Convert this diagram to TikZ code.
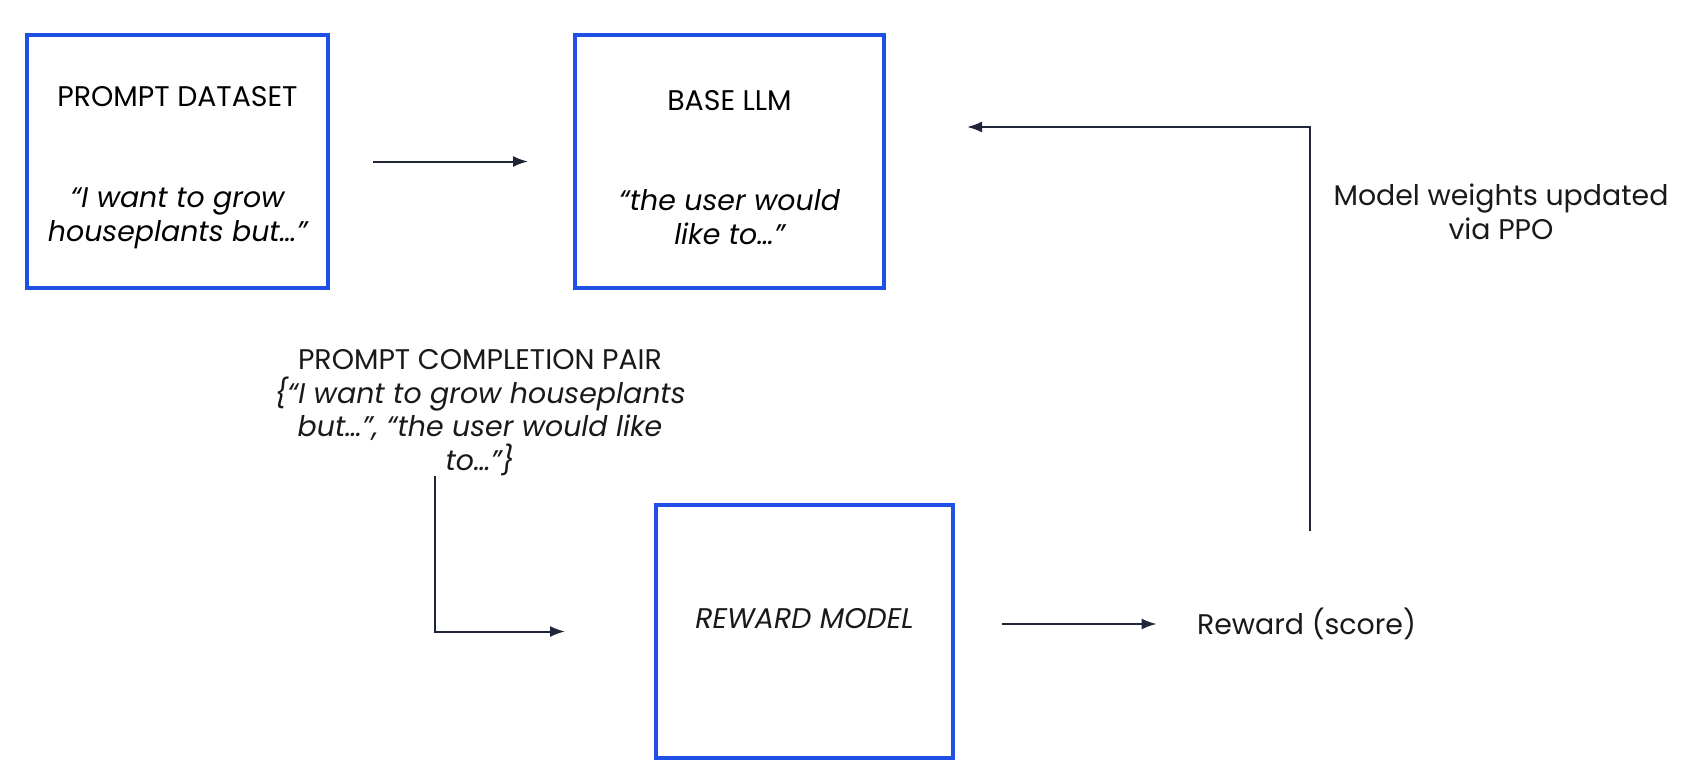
\documentclass[tikz,border=0pt]{standalone}
\usepackage{fontspec}
\setmainfont{Poppins}
\usetikzlibrary{arrows.meta,positioning}

\definecolor{boxblue}{RGB}{30,80,230}
\definecolor{linenavy}{RGB}{30,38,55}

\begin{document}
\begin{tikzpicture}[x=0.5pt, y=-0.5pt,
  font=\fontsize{14.2}{16.8}\selectfont,
  stage/.style={draw=boxblue, line width=2pt, minimum height=126.5pt, align=center, inner sep=0pt},
  caption/.style={align=center, inner sep=0pt, text=black!90},
  flow/.style={draw=linenavy, line width=1pt, -{Latex[length=7.5pt,width=5.5pt]}}]

  \useasboundingbox (0,0) rectangle (1686,781);

  % Nodes:
  \node[stage, minimum width=150.5pt] (data) at (177.5,161.5)
    {\rule{0pt}{16pt}PROMPT DATASET\\[33.6pt]\itshape “I want to grow\\\itshape houseplants but…”};
  \node[stage, minimum width=154.5pt] (base) at (729.5,161.5)
    {\rule{0pt}{16pt}BASE LLM\\[33.6pt]\itshape “the user would\\\itshape like to…”};
  \node[stage, minimum width=148.5pt] (reward) at (804.5,631.5) {};
  \node[caption, font=\fontsize{14.2}{16.8}\selectfont\itshape] (rewardtxt)
    at ([yshift=6.5pt]reward.center) {REWARD MODEL};
  \node[caption] (pair) at (480,412.5)
    {PROMPT COMPLETION PAIR\\\itshape \{“I want to grow houseplants\\\itshape but…”, “the user would like\\\itshape to…”\}};
  \node[caption] (score) at (1306.5,624) {Reward (score)};
  \node[caption] (weights) at (1501,212) {Model weights updated\\via PPO};

  % Connections:
  \draw[flow, shorten <=21.5pt, shorten >=22.5pt] (data) -- (base);
  \draw[flow, shorten >=44.5pt] ([xshift=-22.5pt]pair.south) |- (reward);
  \draw[flow, shorten <=23.5pt, shorten >=20pt] ([yshift=3.75pt]reward.east) -- (score.west);
  \draw[flow, shorten <=38.5pt, shorten >=40.5pt] ([xshift=1.75pt]score.north) |- ([yshift=17.25pt]base.east);

\end{tikzpicture}
\end{document}
